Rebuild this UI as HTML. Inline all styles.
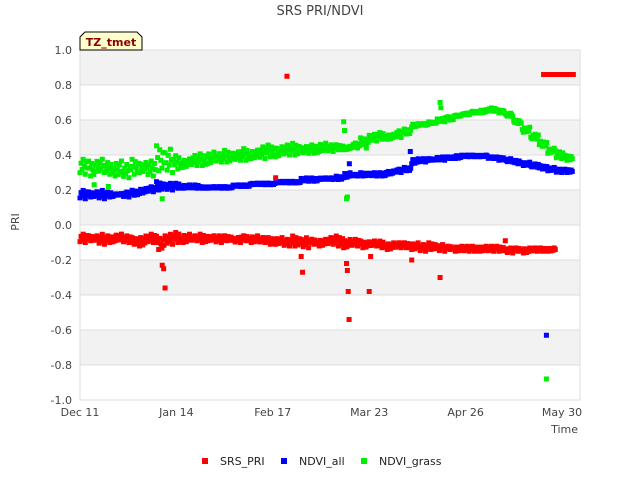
<!DOCTYPE html>
<html><head><meta charset="utf-8"><style>
body{margin:0;background:#fff;}
svg{display:block;font-family:"DejaVu Sans","Liberation Sans",sans-serif;}
</style></head><body>
<svg id="chart" width="640" height="480" viewBox="0 0 640 480" xmlns="http://www.w3.org/2000/svg">
<text x="320" y="15" text-anchor="middle" font-size="13" fill="#444">SRS PRI/NDVI</text>
<g id="bands"></g>
<g id="grid"></g>
<g id="yticks"></g>
<g id="xticks"></g>
<g id="marks"></g>
<text x="19" y="222" text-anchor="middle" font-size="11" fill="#444" transform="rotate(-90 19 222)">PRI</text>
<text x="578" y="433" text-anchor="end" font-size="11" fill="#444">Time</text>
<g>
<path d="M80,50 L80,37 L85,32 L137,32 L142,37 L142,50 Z" fill="#ffffcc" stroke="#000" stroke-width="1"/>
<text x="111" y="46" text-anchor="middle" font-size="11" font-weight="bold" fill="#8b0000">TZ_tmet</text>
</g>
<g>
<g><rect x="202" y="458" width="6" height="6" fill="#ff0000"/><text x="220" y="465" font-size="11" fill="#222">SRS_PRI</text></g>
<g><rect x="281" y="458" width="6" height="6" fill="#0000ff"/><text x="299" y="465" font-size="11" fill="#222">NDVI_all</text></g>
<g><rect x="361" y="458" width="6" height="6" fill="#00ee00"/><text x="379" y="465" font-size="11" fill="#222">NDVI_grass</text></g>
</g>
</svg>
<script>
const yTicks=[1.0,0.8,0.6,0.4,0.2,0.0,-0.2,-0.4,-0.6,-0.8,-1.0];
const xTickDays=[0,34,68,102,136,170];
const xTickLabels=["Dec 11","Jan 14","Feb 17","Mar 23","Apr 26","May 30"];
const stepDays=3;
const spreadPattern=[0.1,0.7,0.3,0.95,0.5,0.0,0.8,0.4];
const grassHi=[0.38,0.37,0.38,0.36,0.37,0.35,0.38,0.36,0.37,0.46,0.44,0.40,0.38,0.40,0.41,0.42,0.41,0.43,0.42,0.44,0.43,0.45,0.46,0.45,0.46,0.47,0.45,0.46,0.47,0.46,0.46,0.45,0.47,0.50,0.52,0.53,0.52,0.54,0.55,0.58,0.58,0.59,0.61,0.62,0.63,0.64,0.65,0.66,0.67,0.66,0.64,0.60,0.56,0.52,0.48,0.44,0.42,0.40];
const grassLo=[0.29,0.28,0.30,0.29,0.28,0.27,0.29,0.30,0.28,0.31,0.30,0.32,0.33,0.34,0.34,0.35,0.36,0.36,0.37,0.37,0.38,0.38,0.39,0.39,0.40,0.40,0.41,0.41,0.42,0.42,0.43,0.43,0.44,0.46,0.48,0.49,0.49,0.50,0.52,0.56,0.57,0.58,0.59,0.60,0.62,0.63,0.64,0.64,0.65,0.64,0.62,0.58,0.53,0.49,0.45,0.41,0.38,0.37];
const allHi=[0.20,0.19,0.20,0.19,0.18,0.19,0.20,0.21,0.22,0.25,0.24,0.24,0.23,0.23,0.22,0.22,0.22,0.22,0.23,0.23,0.24,0.24,0.24,0.25,0.25,0.25,0.27,0.27,0.27,0.27,0.28,0.30,0.29,0.30,0.30,0.30,0.31,0.32,0.33,0.38,0.38,0.38,0.39,0.39,0.40,0.40,0.40,0.40,0.39,0.39,0.38,0.37,0.36,0.35,0.34,0.33,0.32,0.32];
const allLo=[0.15,0.16,0.15,0.16,0.17,0.16,0.17,0.18,0.19,0.20,0.20,0.21,0.21,0.21,0.21,0.21,0.21,0.21,0.22,0.22,0.23,0.23,0.23,0.24,0.24,0.24,0.25,0.25,0.26,0.26,0.26,0.27,0.28,0.28,0.28,0.28,0.29,0.30,0.31,0.35,0.36,0.37,0.37,0.38,0.38,0.39,0.39,0.39,0.38,0.37,0.36,0.35,0.34,0.33,0.32,0.31,0.30,0.30];
const priHi=[-0.05,-0.06,-0.05,-0.06,-0.05,-0.06,-0.07,-0.06,-0.05,-0.06,-0.05,-0.04,-0.05,-0.06,-0.05,-0.06,-0.06,-0.06,-0.07,-0.06,-0.06,-0.07,-0.07,-0.07,-0.08,-0.06,-0.07,-0.08,-0.08,-0.07,-0.06,-0.08,-0.08,-0.09,-0.09,-0.09,-0.10,-0.10,-0.10,-0.10,-0.11,-0.10,-0.11,-0.12,-0.12,-0.12,-0.12,-0.12,-0.12,-0.12,-0.13,-0.13,-0.13,-0.13,-0.13,-0.13];
const priLo=[-0.10,-0.09,-0.11,-0.10,-0.09,-0.10,-0.11,-0.12,-0.10,-0.14,-0.11,-0.10,-0.10,-0.09,-0.10,-0.09,-0.10,-0.09,-0.10,-0.09,-0.10,-0.10,-0.11,-0.11,-0.12,-0.12,-0.13,-0.11,-0.12,-0.11,-0.12,-0.13,-0.12,-0.13,-0.12,-0.13,-0.14,-0.13,-0.13,-0.14,-0.15,-0.14,-0.15,-0.14,-0.15,-0.15,-0.15,-0.15,-0.15,-0.15,-0.16,-0.15,-0.16,-0.15,-0.15,-0.15];
const priOutDays=[29,29.5,30,69,73,78,78.5,94,94.3,94.6,94.9,102,102.5,117,127,150];
const priOutVals=[-0.23,-0.25,-0.36,0.27,0.85,-0.18,-0.27,-0.22,-0.26,-0.38,-0.54,-0.38,-0.18,-0.20,-0.30,-0.09];
const priTailDays=[163.5,164,164.5,165,165.5,166,166.5,167,167.5,168,168.5,169,169.5,170,170.5,171,171.5,172,172.5,173,173.5,174];
const priTailVals=[0.86,0.86,0.86,0.86,0.86,0.86,0.86,0.86,0.86,0.86,0.86,0.86,0.86,0.86,0.86,0.86,0.86,0.86,0.86,0.86,0.86,0.86];
const allOutDays=[95,116.5,164.5];
const allOutVals=[0.35,0.42,-0.63];
const grassOutDays=[5,10,29,93,93.3,94,94.3,101,127,127.3,164.5];
const grassOutVals=[0.23,0.22,0.15,0.59,0.54,0.15,0.16,0.44,0.70,0.67,-0.88];

const L=80,R=580,T=50,B=400,X0=80,PXD=(562-80)/170;
const xs=d=>X0+d*PXD;
const ys=v=>T+(1-v)/2*(B-T);
const NS="http://www.w3.org/2000/svg";
function mk(tag,parent,attrs){const e=document.createElementNS(NS,tag);for(const k in attrs)e.setAttribute(k,attrs[k]);parent.appendChild(e);return e;}
const bands=document.getElementById('bands'),grid=document.getElementById('grid'),yt=document.getElementById('yticks'),xt=document.getElementById('xticks'),marks=document.getElementById('marks');
for(let i=0;i<yTicks.length-1;i++){
  const r=mk('rect',bands,{x:L,y:ys(yTicks[i]),width:R-L,height:ys(yTicks[i+1])-ys(yTicks[i]),fill:i%2===0?'#f2f2f2':'#ffffff'});
  
  
}
yTicks.forEach(v=>{
  const l=mk('line',grid,{x1:L,x2:R,y1:ys(v),y2:ys(v),stroke:'#dddddd','stroke-width':1});
  
  
  const t=mk('text',yt,{x:72,y:ys(v)+4,'text-anchor':'end','font-size':11,fill:'#444'});
  t.textContent=v.toFixed(1);
  
  
});
const fr=mk('rect',grid,{x:L,y:T,width:R-L,height:B-T,fill:'none',stroke:'#dddddd','stroke-width':1});


xTickDays.forEach((d,i)=>{
  const t=mk('text',xt,{x:xs(d),y:416,'text-anchor':'middle','font-size':11,fill:'#444'});
  t.textContent=xTickLabels[i];
  
  
});
function pt(d,v,c,name){
  const r=mk('rect',marks,{x:xs(d)-2.5,y:ys(v)-2.5,width:5,height:5,fill:c});
  
  
}
function series(hi,lo,c,name){
  const n=Math.min(hi.length,lo.length);
  const k=spreadPattern.length;
  for(let i=0;i<n;i++){
    const d=i*stepDays;
    for(let j=0;j<k;j++){
      const f=spreadPattern[(j+i*3)%k];
      pt(d+j*stepDays/k,lo[i]+(hi[i]-lo[i])*f,c,name);
    }
  }
}
function outs(ds,vs,c,name){for(let i=0;i<Math.min(ds.length,vs.length);i++)pt(ds[i],vs[i],c,name);}
series(grassHi,grassLo,'#00ee00','ndvi-grass-point');
outs(grassOutDays,grassOutVals,'#00ee00','ndvi-grass-point');
series(allHi,allLo,'#0000ff','ndvi-all-point');
outs(allOutDays,allOutVals,'#0000ff','ndvi-all-point');
series(priHi,priLo,'#ff0000','srs-pri-point');
outs(priOutDays,priOutVals,'#ff0000','srs-pri-point');
outs(priTailDays,priTailVals,'#ff0000','srs-pri-point');
</script>
</body></html>
